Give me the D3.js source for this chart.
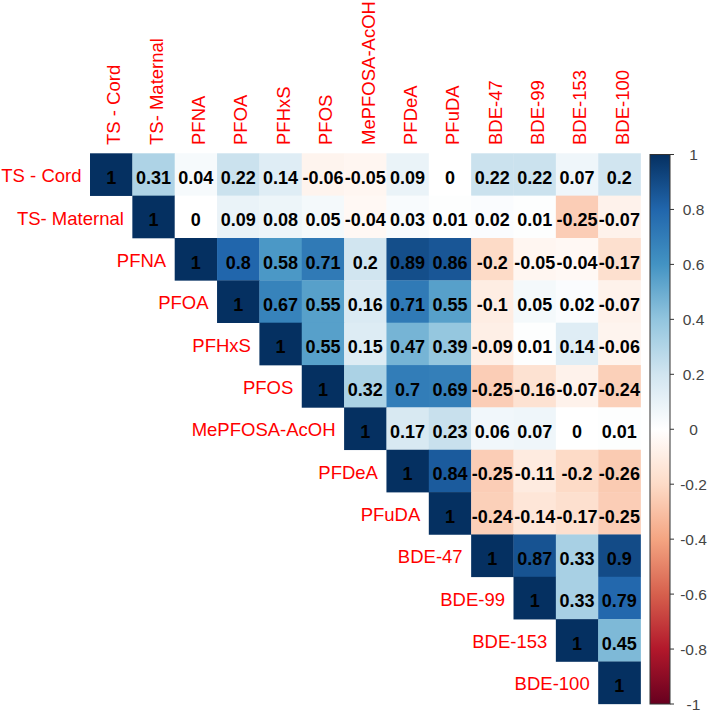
<!DOCTYPE html>
<html>
<head>
<meta charset="utf-8">
<script src="https://cdn.jsdelivr.net/npm/d3@7"></script>
<style>
  html, body { margin: 0; padding: 0; background: #fff; }
  svg { display: block; }
</style>
</head>
<body>
<svg id="chart" width="708" height="713"></svg>
<script>
// ---- Data ----
const variables = ["TS - Cord", "TS- Maternal", "PFNA", "PFOA", "PFHxS", "PFOS",
  "MePFOSA-AcOH", "PFDeA", "PFuDA", "BDE-47", "BDE-99", "BDE-153", "BDE-100"];

// upper triangle rows (starting at the diagonal)
const rowTSCord     = [1, 0.31, 0.04, 0.22, 0.14, -0.06, -0.05, 0.09, 0, 0.22, 0.22, 0.07, 0.2];
const rowTSMaternal = [1, 0, 0.09, 0.08, 0.05, -0.04, 0.03, 0.01, 0.02, 0.01, -0.25, -0.07];
const rowPFNA       = [1, 0.8, 0.58, 0.71, 0.2, 0.89, 0.86, -0.2, -0.05, -0.04, -0.17];
const rowPFOA       = [1, 0.67, 0.55, 0.16, 0.71, 0.55, -0.1, 0.05, 0.02, -0.07];
const rowPFHxS      = [1, 0.55, 0.15, 0.47, 0.39, -0.09, 0.01, 0.14, -0.06];
const rowPFOS       = [1, 0.32, 0.7, 0.69, -0.25, -0.16, -0.07, -0.24];
const rowMePFOSA    = [1, 0.17, 0.23, 0.06, 0.07, 0, 0.01];
const rowPFDeA      = [1, 0.84, -0.25, -0.11, -0.2, -0.26];
const rowPFuDA      = [1, -0.24, -0.14, -0.17, -0.25];
const rowBDE47      = [1, 0.87, 0.33, 0.9];
const rowBDE99      = [1, 0.33, 0.79];
const rowBDE153     = [1, 0.45];
const rowBDE100     = [1];

const rows = [rowTSCord, rowTSMaternal, rowPFNA, rowPFOA, rowPFHxS, rowPFOS,
  rowMePFOSA, rowPFDeA, rowPFuDA, rowBDE47, rowBDE99, rowBDE153, rowBDE100];

const legendTicks = [1, 0.8, 0.6, 0.4, 0.2, 0, -0.2, -0.4, -0.6, -0.8, -1];

const paletteStops = ["#67001F", "#B2182B", "#D6604D", "#F4A582", "#FDDBC7", "#FFFFFF",
  "#D1E5F0", "#92C5DE", "#4393C3", "#2166AC", "#053061"];

// ---- Layout ----
const x0 = 90, y0 = 153.3, cellW = 42.35;
const n = variables.length;

const cells = [];
rows.forEach((r, i) => r.forEach((v, k) => cells.push({ i, j: i + k, v })));

const x = d3.scaleBand().domain(d3.range(n)).range([x0, x0 + n * cellW]).padding(0);
const y = d3.scaleBand().domain(d3.range(n)).range([y0, y0 + n * cellW]).padding(0);

const color = d3.scaleLinear()
  .domain(d3.range(11).map(k => -1 + k * 0.2))
  .range(paletteStops)
  .interpolate(d3.interpolateRgb)
  .clamp(true);

const svg = d3.select("#chart");
const FONT = "'Liberation Sans', Arial, Helvetica, sans-serif";

// cells
svg.append("g").selectAll("rect").data(cells).join("rect")
  .attr("x", d => x(d.j))
  .attr("y", d => y(d.i))
  .attr("width", x.bandwidth() + 0.3)
  .attr("height", y.bandwidth() + 0.3)
  .attr("fill", d => color(d.v));

// numbers
svg.append("g").selectAll("text").data(cells).join("text")
  .attr("x", d => x(d.j) + x.bandwidth() / 2)
  .attr("y", d => y(d.i) + y.bandwidth() / 2)
  .attr("dy", "0.52em")
  .attr("text-anchor", "middle")
  .attr("font-family", FONT)
  .attr("font-weight", "bold")
  .attr("font-size", "18px")
  .attr("fill", "#000")
  .text(d => String(d.v));

// column labels
svg.append("g").selectAll("text").data(variables).join("text")
  .attr("transform", (d, j) => `translate(${x(j) + x.bandwidth() / 2},145) rotate(-90)`)
  .attr("dy", "0.5em")
  .attr("text-anchor", "start")
  .attr("font-family", FONT)
  .attr("font-size", "18.5px")
  .attr("fill", "#FF0000")
  .text(d => d);

// row labels
svg.append("g").selectAll("text").data(variables).join("text")
  .attr("x", (d, i) => x(i) - 8.5)
  .attr("y", (d, i) => y(i) + y.bandwidth() / 2)
  .attr("dy", "0.42em")
  .attr("text-anchor", "end")
  .attr("font-family", FONT)
  .attr("font-size", "18.5px")
  .attr("fill", "#FF0000")
  .text(d => d);

// color legend
const lgX = 650, lgW = 20, lgTop = 154.5, lgBot = 704;
const ly = d3.scaleLinear().domain([1, -1]).range([lgTop, lgBot]);
const defs = svg.append("defs");
const grad = defs.append("linearGradient").attr("id", "cbar")
  .attr("x1", 0).attr("y1", 0).attr("x2", 0).attr("y2", 1);
d3.range(0, 1.0001, 0.1).forEach(t => {
  grad.append("stop").attr("offset", t).attr("stop-color", color(1 - 2 * t));
});
svg.append("rect")
  .attr("x", lgX).attr("y", lgTop)
  .attr("width", lgW).attr("height", lgBot - lgTop)
  .attr("fill", "url(#cbar)")
  .attr("stroke", "#333").attr("stroke-width", 1);

const lg = svg.append("g");
lg.selectAll("line").data(legendTicks).join("line")
  .attr("x1", lgX + lgW).attr("x2", lgX + lgW + 4)
  .attr("y1", d => ly(d)).attr("y2", d => ly(d))
  .attr("stroke", "#333").attr("stroke-width", 1);
lg.selectAll("text").data(legendTicks).join("text")
  .attr("x", 693.5)
  .attr("y", d => ly(d))
  .attr("dy", "0.36em")
  .attr("text-anchor", "middle")
  .attr("font-family", FONT)
  .attr("font-size", "15.5px")
  .attr("fill", "#444")
  .text(d => String(d));
</script>
</body>
</html>
